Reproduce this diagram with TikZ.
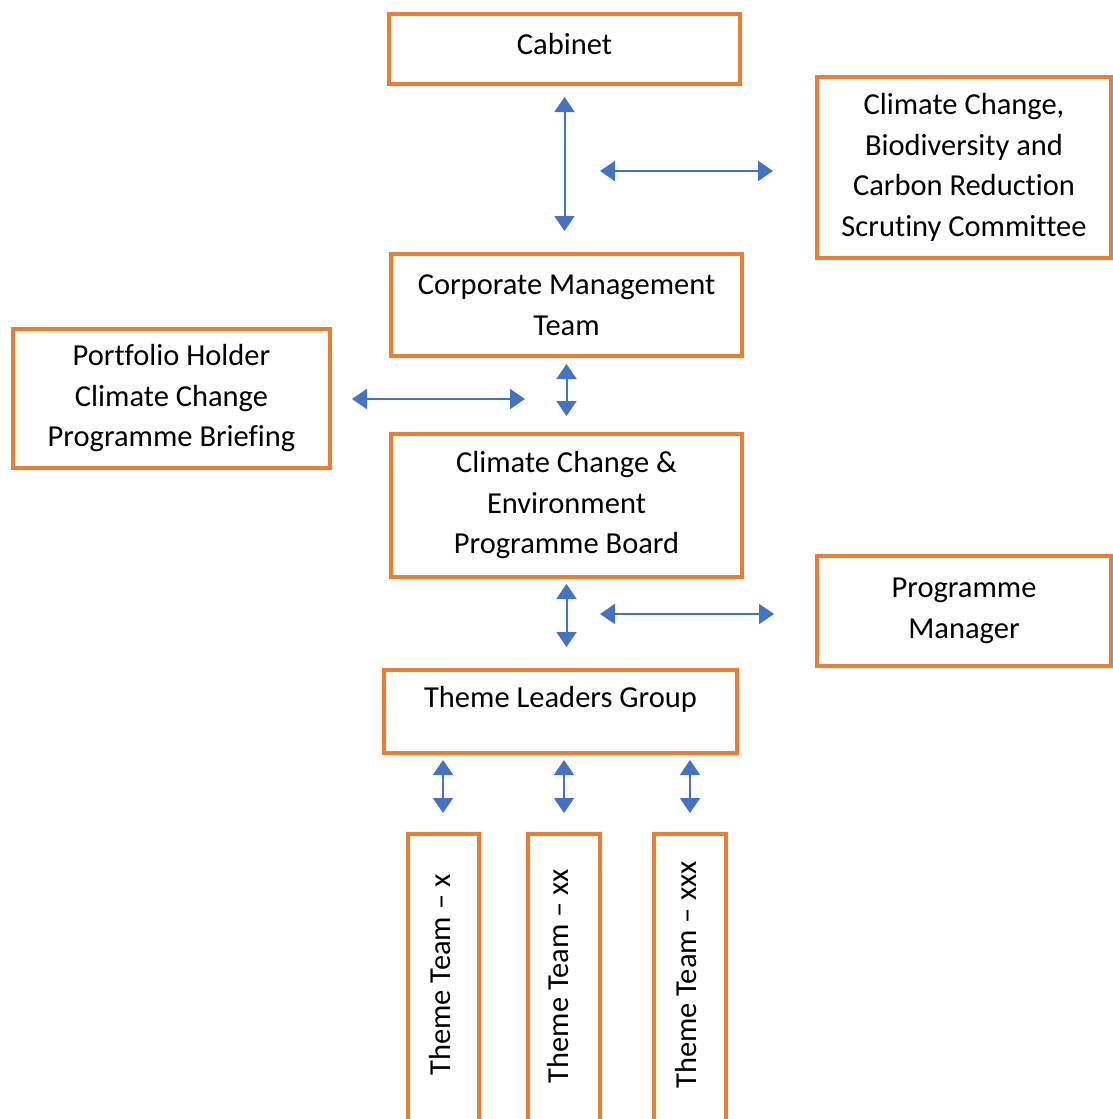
\documentclass[tikz,border=0pt]{standalone}
\usepackage{fontspec}
\setmainfont[Ligatures=NoCommon]{Carlito}
\usepackage{tikz}
\usetikzlibrary{arrows.meta,positioning,calc}
\definecolor{boxorange}{HTML}{ED7D31}
\definecolor{linkblue}{HTML}{4472C4}
\tikzset{%
	orgbox/.style   = {draw=boxorange, line width=4pt, rectangle, fill=white, align=center, inner sep=0pt, font=\fontsize{30.5}{40.5}\selectfont},
	teambox/.style  = {draw=boxorange, line width=4pt, rectangle, inner sep=0pt, minimum height=326pt},
	teamtext/.style = {rotate=90, inner sep=0pt, font=\fontsize{30.5}{40.5}\selectfont},
	link/.style     = {draw=linkblue, line width=2pt, {Triangle[length=15pt,width=20pt]}-{Triangle[length=15pt,width=20pt]}, linkblue},
}

\begin{document}
\begin{tikzpicture}[x=1pt,y=-1pt]
	\useasboundingbox (0,0) rectangle (1113,1119);
	
	\node[orgbox, minimum width=351pt, minimum height=70pt, text depth=10pt] (cab) at (564.5,49) {Cabinet};
	\node[orgbox, minimum width=294pt, minimum height=181pt] (scr) at (964,167.5) {Climate Change,\\Biodiversity and\\Carbon Reduction\\Scrutiny Committee};
	\node[orgbox, minimum width=351pt, minimum height=102pt] (cmt) at (566.5,305) {Corporate Management\\Team};
	\node[orgbox, minimum width=317pt, minimum height=139pt] (port) at (171.5,398.5) {Portfolio Holder\\Climate Change\\Programme Briefing};
	\node[orgbox, minimum width=351pt, minimum height=143pt] (board) at (566.5,505.5) {Climate Change \&\\Environment\\Programme Board};
	\node[orgbox, minimum width=294pt, minimum height=110pt] (pm) at (964,611) {Programme\\Manager};
	\node[orgbox, minimum width=353pt, minimum height=83pt, text height=21pt, text depth=29pt] (tlg) at (560.5,711.5) {Theme Leaders Group};
	
	\node[teambox, minimum width=71pt] (tx) at (443,997) {};
	\node[teambox, minimum width=72pt] (txx) at (564,997) {};
	\node[teambox, minimum width=72pt] (txxx) at (690,997) {};
	\node[teamtext] (lx) at (440,975) {Theme Team -- x};
	\node[teamtext] (lxx) at (558,976) {Theme Team -- xx};
	\node[teamtext] (lxxx) at (686,975) {Theme Team -- xxx};
	
	\coordinate (scrfree) at (600,171);
	\coordinate (portfree) at (525,399);
	\coordinate (pmfree) at (600,614);
	
	\draw[link, shorten <=11pt, shorten >=21pt] (cab.south) -- (cab.south |- cmt.north);
	\draw[link, shorten >=42pt] (scrfree) -- (scrfree -| scr.west);
	\draw[link, shorten <=6pt, shorten >=16pt] (cmt.south) -- (cmt.south |- board.north);
	\draw[link, shorten <=20pt] (portfree -| port.east) -- (portfree);
	\draw[link, shorten <=5pt, shorten >=21pt] (board.south) -- (board.south |- tlg.north);
	\draw[link, shorten >=41pt] (pmfree) -- (pmfree -| pm.west);
	
	\foreach \t in {tx,txx,txxx} \draw[link, shorten <=5pt, shorten >=19pt] (\t.north |- tlg.south) -- (\t.north);
\end{tikzpicture}
\end{document}
